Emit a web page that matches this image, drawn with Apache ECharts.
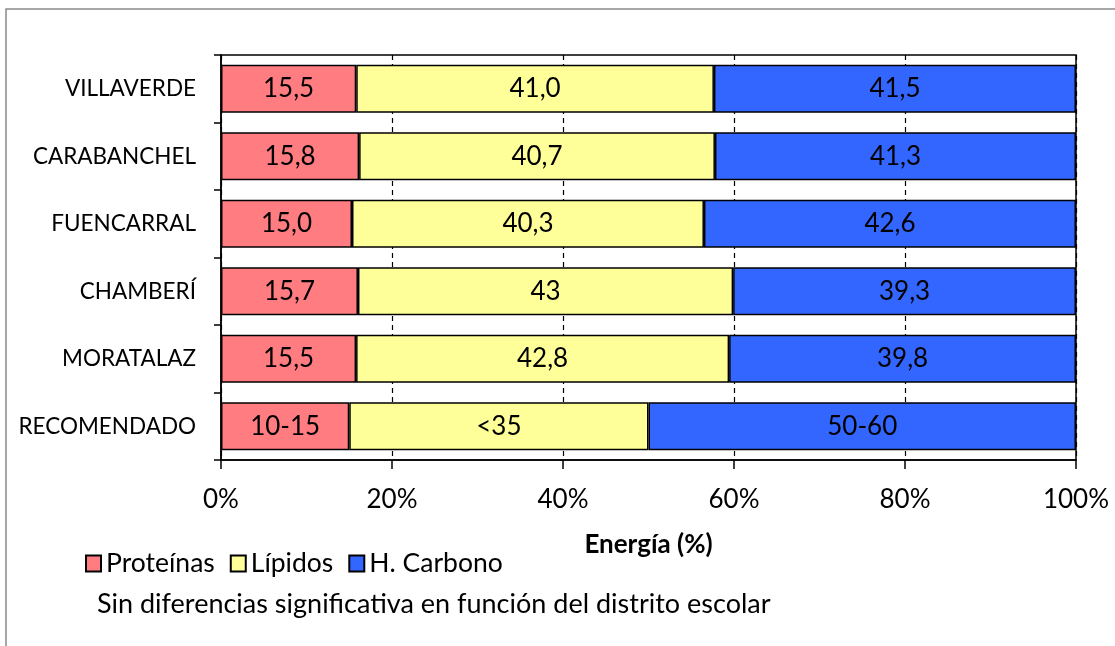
<!DOCTYPE html>
<html>
<head>
<meta charset="utf-8">
<script src="https://cdn.jsdelivr.net/npm/echarts@6/dist/echarts.min.js"></script>
<style>
html,body{margin:0;padding:0;background:#fff;}
#chart{width:1115px;height:646px;}
</style>
</head>
<body>
<div id="chart"></div>
<script>
const categories = ["VILLAVERDE", "CARABANCHEL", "FUENCARRAL", "CHAMBERÍ", "MORATALAZ", "RECOMENDADO"];
const seriesNames = ["Proteínas", "Lípidos", "H. Carbono"];
const proteinas = [15.5, 15.8, 15.0, 15.7, 15.5, 15];
const lipidos = [41.0, 40.7, 40.3, 43, 42.8, 35];
const carbono = [41.5, 41.3, 42.6, 39.3, 39.8, 50];
const proteinasLabels = ["15,5", "15,8", "15,0", "15,7", "15,5", "10-15"];
const lipidosLabels = ["41,0", "40,7", "40,3", "43", "42,8", "<35"];
const carbonoLabels = ["41,5", "41,3", "42,6", "39,3", "39,8", "50-60"];
const xTicks = [0, 20, 40, 60, 80, 100];
const axisTitle = "Energía (%)";
const note = "Sin diferencias significativa en función del distrito escolar";

const colors = ["#FF7C80", "#FFFF99", "#3366FF"];
const FONT = "Lato";
const FS = 26;

const totals = categories.map((c, i) => proteinas[i] + lipidos[i] + carbono[i]);
const pct = arr => arr.map((v, i) => v / totals[i] * 100);
const raw = [proteinas, lipidos, carbono];
const labs = [proteinasLabels, lipidosLabels, carbonoLabels];

const chart = echarts.init(document.getElementById('chart'), null, {renderer: 'canvas'});
chart.setOption({
  animation: false,
  backgroundColor: '#fff',
  textStyle: {fontFamily: FONT},
  grid: {left: 221, right: 39, top: 55, bottom: 186, show: true, borderColor: '#000', borderWidth: 1.5, backgroundColor: 'transparent'},
  legend: {
    left: 80, top: 545,
    itemWidth: 15, itemHeight: 16, itemGap: 15,
    icon: 'rect',
    textStyle: {fontFamily: FONT, fontSize: 26.5, color: '#000'},
    data: seriesNames
  },
  xAxis: {
    type: 'value', min: xTicks[0], max: xTicks[xTicks.length - 1], interval: 20,
    name: axisTitle, nameLocation: 'middle', nameGap: 72,
    nameTextStyle: {fontFamily: FONT, fontSize: FS, fontWeight: 'bold', color: '#000'},
    axisLine: {show: true, lineStyle: {color: '#000', width: 1.5}},
    axisTick: {show: true, length: 9, lineStyle: {color: '#000', width: 1.5}},
    axisLabel: {formatter: '{value}%', fontFamily: FONT, fontSize: FS, color: '#000', margin: 27},
    splitLine: {show: true, lineStyle: {color: '#000', type: [5, 4], width: 1.2}}
  },
  yAxis: {
    type: 'category', data: categories, inverse: true,
    axisLine: {show: true, lineStyle: {color: '#000', width: 1.5}},
    axisTick: {show: true, length: 7, lineStyle: {color: '#000', width: 1.5}},
    axisLabel: {fontFamily: FONT, fontSize: 22.5, color: '#000', margin: 25},
    splitLine: {show: false}
  },
  series: seriesNames.map((name, k) => ({
    name: name, type: 'bar', stack: 'total',
    barCategoryGap: '29%',
    data: pct(raw[k]),
    itemStyle: {color: colors[k], borderColor: '#000', borderWidth: 1.5},
    label: {
      show: true, position: 'inside', fontFamily: FONT, fontSize: FS, color: '#000',
      formatter: p => labs[k][p.dataIndex]
    }
  })),
  graphic: [
    {type: 'rect', shape: {x: 6, y: 9, width: 1200, height: 800}, style: {fill: 'none', stroke: '#8a8a8a', lineWidth: 1.5}, silent: true},
    {type: 'text', left: 97, top: 591, style: {text: note, font: '27px ' + FONT, fill: '#000'}}
  ]
});
</script>
</body>
</html>
